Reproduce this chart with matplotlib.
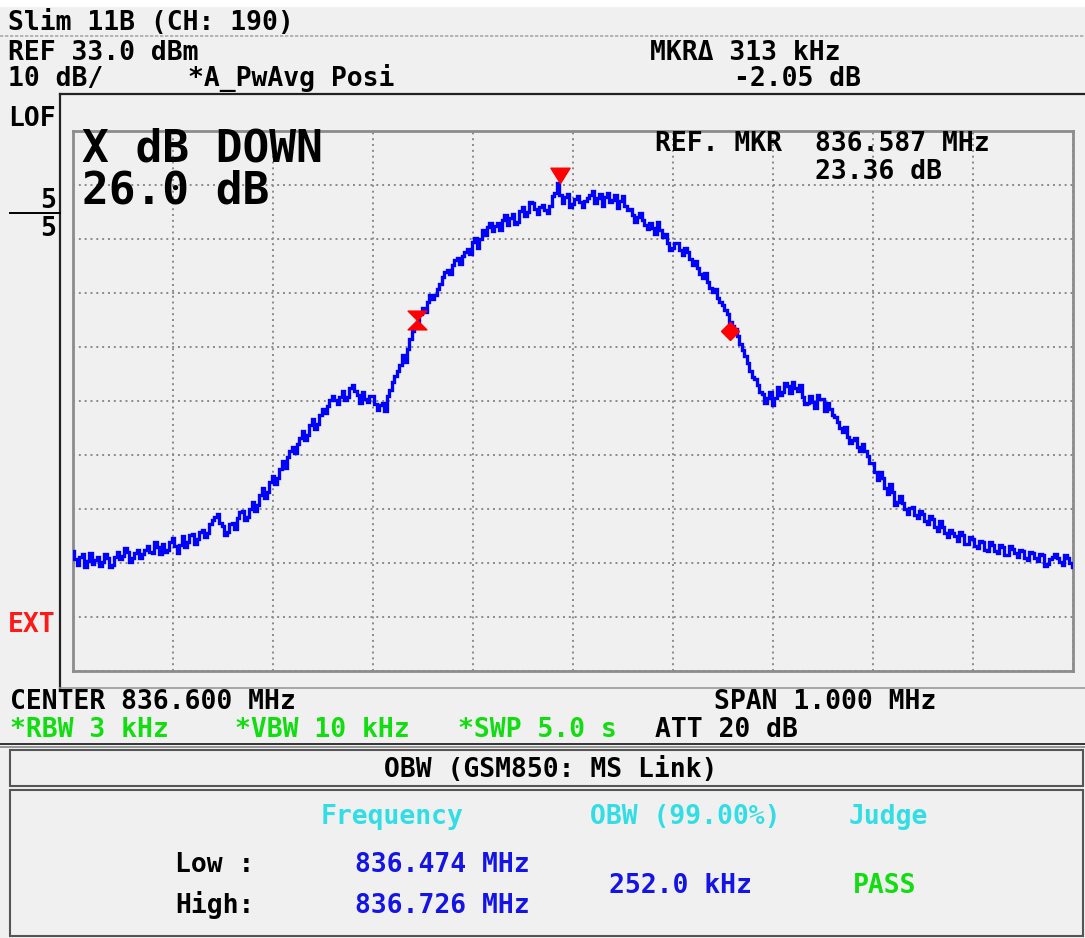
import numpy as np
import matplotlib
matplotlib.use("Agg")
import matplotlib.pyplot as plt
from matplotlib.path import Path
from matplotlib.lines import Line2D
from matplotlib.patches import Rectangle

# ---------------- data ----------------
center_mhz = 836.600
span_mhz = 1.000
ref_level_db = 33.0
db_per_div = 10.0
n_div = 10

trace_db = [
    -44.8, -46.2, -47.4, -45.9, -45.3, -47.8, -46.6, -45.1, -47.2, -46.4, -45.9, -47.6, -46.8, -45.4, -46.1, -47.8, -47.3, -45.9, -45.0, -46.3,
    -45.7, -44.2, -44.9, -46.8, -46.0, -45.1, -44.5, -46.0, -45.4, -44.6, -43.8, -44.9, -45.2, -43.1, -44.0, -45.3, -43.4, -45.0, -44.6, -43.1,
    -42.3, -43.8, -45.2, -43.6, -42.0, -44.1, -43.1, -41.9, -41.6, -43.4, -42.6, -41.3, -40.8, -42.1, -41.5, -39.8, -39.0, -38.5, -37.9, -39.6,
    -40.2, -41.8, -41.3, -39.8, -39.5, -40.7, -38.6, -37.6, -37.4, -39.0, -38.5, -37.0, -35.7, -37.4, -36.2, -34.5, -33.1, -34.9, -33.8, -32.0,
    -30.9, -32.4, -31.2, -29.6, -28.2, -29.4, -27.4, -26.3, -25.5, -26.6, -24.9, -23.8, -22.6, -24.2, -23.3, -21.4, -20.4, -22.1, -21.2, -19.6,
    -18.4, -19.3, -17.9, -16.8, -16.0, -16.9, -17.6, -16.2, -15.2, -16.8, -16.3, -14.6, -14.1, -15.2, -15.9, -17.3, -15.4, -16.6, -17.2, -16.0,
    -16.1, -17.5, -18.6, -17.8, -17.4, -18.9, -16.0, -14.9, -13.4, -12.4, -11.5, -10.3, -8.4, -9.8, -7.3, -5.6, -4.0, -3.1, -2.4, -0.8,
    0.2, -0.5, 1.4, 2.6, 1.8, 2.7, 3.7, 4.6, 5.9, 6.8, 7.3, 6.6, 8.2, 9.1, 9.4, 8.4, 9.8, 10.6, 11.1, 10.2,
    12.4, 13.1, 11.3, 13.0, 14.6, 13.7, 15.3, 16.0, 14.4, 15.4, 15.9, 14.7, 16.6, 17.5, 15.6, 16.8, 17.6, 15.8, 16.1, 18.2,
    19.0, 17.2, 18.0, 19.9, 19.6, 18.6, 17.7, 18.9, 19.3, 18.4, 17.9, 19.2, 20.9, 21.6, 23.4, 21.2, 19.6, 20.7, 21.4, 18.9,
    19.4, 20.4, 21.0, 19.9, 18.9, 20.1, 20.6, 21.1, 21.8, 19.7, 20.6, 21.3, 19.2, 20.7, 21.5, 19.8, 20.2, 21.2, 18.8, 20.1,
    20.9, 19.1, 18.3, 18.6, 17.5, 16.2, 17.0, 17.9, 16.5, 15.6, 14.9, 16.0, 15.0, 14.0, 16.1, 14.6, 13.4, 13.9, 12.2, 11.0,
    11.3, 12.3, 12.2, 10.9, 10.0, 11.4, 10.5, 9.3, 8.2, 8.9, 7.6, 6.5, 5.8, 6.7, 5.0, 3.9, 3.2, 3.8, 2.1, 1.3,
    0.8, -0.2, -0.9, -2.3, -3.2, -3.6, -4.9, -6.5, -7.6, -8.7, -9.9, -11.4, -12.6, -13.0, -14.1, -15.4, -15.7, -17.4, -16.4, -15.3,
    -17.8, -16.4, -14.4, -15.9, -15.3, -13.6, -14.2, -15.5, -13.5, -14.6, -15.1, -14.0, -16.3, -17.5, -17.3, -16.0, -17.2, -18.3, -15.9, -16.6,
    -16.7, -18.9, -17.4, -18.5, -19.6, -19.9, -20.9, -22.0, -22.7, -21.9, -23.6, -24.8, -24.2, -23.9, -25.6, -26.2, -25.0, -26.3, -27.1, -28.5,
    -28.4, -30.2, -31.7, -30.1, -31.3, -33.1, -34.2, -32.4, -33.8, -36.2, -35.7, -34.6, -35.9, -37.0, -37.9, -36.8, -36.7, -38.2, -38.6, -37.3,
    -37.9, -39.3, -39.7, -38.3, -38.9, -40.4, -41.0, -39.2, -40.3, -41.5, -42.2, -40.8, -41.4, -42.0, -42.9, -41.3, -41.9, -43.4, -43.5, -42.2,
    -42.6, -43.9, -44.3, -42.9, -43.2, -44.6, -44.7, -43.1, -43.6, -44.8, -45.1, -43.7, -44.0, -45.6, -45.5, -43.9, -44.4, -45.2, -45.9, -44.6,
    -44.8, -46.1, -46.4, -45.0, -45.2, -46.0, -46.7, -45.4, -45.5, -47.6, -47.1, -46.3, -45.8, -45.4, -46.0, -46.9, -47.3, -45.6, -46.1, -47.0,
    -47.8,
]

peak_freq_mhz = 836.587
peak_db = 23.36
xdb_low_freq_mhz = 836.444
xdb_low_db = -2.0
xdb_high_freq_mhz = 836.757
xdb_high_db = -4.05

title_text = "Slim 11B (CH: 190)"
ref_text = "REF 33.0 dBm"
scale_text = "10 dB/"
detector_text = "*A_PwAvg Posi"
mkr_delta_text = "MKR\u0394 313 kHz"
mkr_delta_db_text = "-2.05 dB"
xdb_title = "X dB DOWN"
xdb_value = "26.0 dB"
ref_mkr_label = "REF. MKR"
ref_mkr_freq = "836.587 MHz"
ref_mkr_db = "23.36 dB"
center_text = "CENTER 836.600 MHz"
span_text = "SPAN 1.000 MHz"
rbw_text = "*RBW 3 kHz"
vbw_text = "*VBW 10 kHz"
swp_text = "*SWP 5.0 s"
att_text = "ATT 20 dB"
obw_header = "OBW (GSM850: MS Link)"
col_headers = ["Frequency", "OBW (99.00%)", "Judge"]
row_labels = ["Low :", "High:"]
obw_freqs = ["836.474 MHz", "836.726 MHz"]
obw_value = "252.0 kHz"
judge_value = "PASS"

# ---------------- style ----------------
W, H = 1085, 938
BG = "#f0f0f0"
MONO = "DejaVu Sans Mono"
CYAN = "#33dde6"
GREEN = "#11dd11"
BLUE_TXT = "#1414e6"

fig = plt.figure(figsize=(W / 100, H / 100), dpi=100, facecolor=BG)


def fx(x):
    return x / W


def fy(y):
    return 1 - y / H


def txt(x, y, s, size=19, color="black", ha="left", weight="bold", **kw):
    fig.text(fx(x), fy(y), s, fontsize=size, color=color, ha=ha,
             va="baseline", family=MONO, fontweight=weight, **kw)


def hline(x0, x1, y, color="black", lw=1.5, ls="-"):
    fig.add_artist(Line2D([fx(x0), fx(x1)], [fy(y), fy(y)], color=color,
                          lw=lw, ls=ls, transform=fig.transFigure))


def vline(x, y0, y1, color="black", lw=1.5):
    fig.add_artist(Line2D([fx(x), fx(x)], [fy(y0), fy(y1)], color=color,
                          lw=lw, transform=fig.transFigure))


# white strip on top
fig.add_artist(Rectangle((0, fy(6)), 1, 6 / H, transform=fig.transFigure,
                         color="white", zorder=0))

# header
txt(8, 30, title_text)
hline(0, W, 36, color="#aaaaaa", lw=1.2, ls=(0, (2, 1)))
txt(8, 60, ref_text)
txt(8, 86, scale_text)
txt(188, 86, detector_text)
txt(650, 60, mkr_delta_text)
txt(734, 86, mkr_delta_db_text)

# outer frame
hline(60, W, 94, color="#222222", lw=1.6)
vline(60, 94, 688, color="#222222", lw=1.6)
hline(60, W, 688, color="#999999", lw=1.2)

# left annotations
txt(8, 126, "LOF")
txt(56, 208, "5", ha="right")
hline(10, 60, 213, color="black", lw=1.4)
txt(56, 236, "5", ha="right")
txt(8, 632, "EXT", color="#ff1a1a")

# main plot
ax = fig.add_axes([fx(73), fy(671), 1000 / W, 540 / H])
ax.set_facecolor(BG)
f0 = center_mhz - span_mhz / 2
f1 = center_mhz + span_mhz / 2
bottom_db = ref_level_db - n_div * db_per_div
ax.set_xlim(f0, f1)
ax.set_ylim(bottom_db, ref_level_db)
ax.set_xticks(np.linspace(f0, f1, n_div + 1))
ax.set_yticks(np.linspace(bottom_db, ref_level_db, n_div + 1))
ax.tick_params(length=0, labelbottom=False, labelleft=False)
ax.grid(True, color="#8a8a8a", lw=1.4, ls=(0, (1, 2)))
for sp in ax.spines.values():
    sp.set_color("#8c8c8c")
    sp.set_linewidth(2)

freqs = np.linspace(f0, f1, len(trace_db))
ax.plot(freqs, trace_db, color="#0000ff", lw=2.4, drawstyle="steps-mid",
        solid_joinstyle="miter", zorder=3)

tri_down = Path([(-1, 1.6), (1, 1.6), (0, 0), (-1, 1.6)],
                [Path.MOVETO, Path.LINETO, Path.LINETO, Path.CLOSEPOLY])
ax.plot([peak_freq_mhz], [peak_db], marker=tri_down, ms=22, color="#ff0000",
        mec="#ff0000", ls="none", zorder=5)

hourglass = Path([(-1, 1), (1, 1), (0, 0), (1, -1), (-1, -1), (0, 0), (-1, 1)],
                 [Path.MOVETO, Path.LINETO, Path.LINETO, Path.LINETO,
                  Path.LINETO, Path.LINETO, Path.CLOSEPOLY])
ax.plot([xdb_low_freq_mhz], [xdb_low_db], marker=hourglass, ms=13.5,
        color="#ff0000", mec="#ff0000", ls="none", zorder=5)
ax.plot([xdb_high_freq_mhz], [xdb_high_db], marker="D", ms=9,
        color="#ff0000", mec="#ff0000", ls="none", zorder=5)

# texts in plot area
txt(82, 162, xdb_title, size=32)
txt(82, 203, xdb_value, size=32)
txt(655, 151, ref_mkr_label)
txt(815, 151, ref_mkr_freq)
txt(815, 179, ref_mkr_db)

# bottom info
txt(10, 709, center_text)
txt(714, 709, span_text)
txt(10, 737, rbw_text, color=GREEN)
txt(235, 737, vbw_text, color=GREEN)
txt(458, 737, swp_text, color=GREEN)
txt(655, 737, att_text)

hline(0, W, 744, color="#333333", lw=1.4)
hline(0, W, 747, color="#888888", lw=1.2)

# OBW boxes
for (y0, y1) in [(750, 786), (790, 936)]:
    fig.add_artist(Rectangle((fx(10), fy(y1)), (W - 12) / W, (y1 - y0) / H,
                             transform=fig.transFigure, fill=False,
                             ec="#555555", lw=1.5))
bs = 19
txt(551, 777, obw_header, size=bs, ha="center")
txt(392, 824, col_headers[0], size=bs, ha="center", color=CYAN)
txt(685, 824, col_headers[1], size=bs, ha="center", color=CYAN)
txt(888, 824, col_headers[2], size=bs, ha="center", color=CYAN)
txt(175, 872, row_labels[0], size=bs)
txt(175, 913, row_labels[1], size=bs)
txt(442, 872, obw_freqs[0], size=bs, ha="center", color=BLUE_TXT)
txt(442, 913, obw_freqs[1], size=bs, ha="center", color=BLUE_TXT)
txt(680, 893, obw_value, size=bs, ha="center", color=BLUE_TXT)
txt(885, 893, judge_value, size=bs, ha="center", color=GREEN)

fig.savefig("out.png", dpi=100, facecolor=BG)
